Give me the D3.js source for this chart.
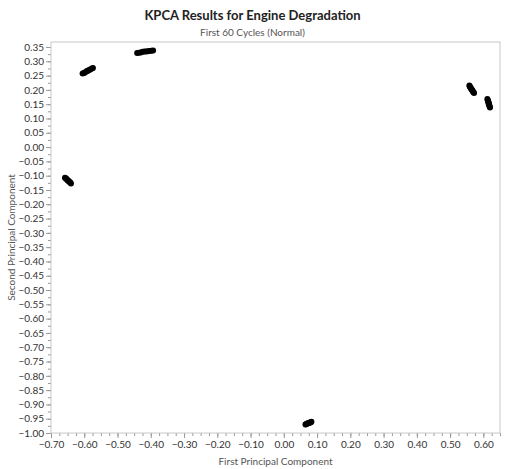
<!DOCTYPE html>
<html>
<head>
<meta charset="utf-8">
<script src="https://cdn.jsdelivr.net/npm/d3@7"></script>
<style>
  body { margin: 0; background: #fff; }
  text { font-family: Lato, "Open Sans", sans-serif; }
</style>
</head>
<body>
<div id="chart"></div>
<script>
var svgWidth = 505;
var svgHeight = 469;

var margin = { top: 42, right: 5, bottom: 36, left: 51 };
var width = svgWidth - margin.left - margin.right;
var height = svgHeight - margin.top - margin.bottom;

// KPCA scores, one pair of arrays per cluster
var clusterA_x = [-0.658, -0.656, -0.654, -0.652, -0.650, -0.648, -0.646, -0.644, -0.642, -0.640];
var clusterA_y = [-0.107, -0.109, -0.111, -0.113, -0.116, -0.118, -0.120, -0.122, -0.124, -0.127];

var clusterB_x = [-0.605, -0.601, -0.598, -0.594, -0.591, -0.588, -0.585, -0.581, -0.577, -0.574];
var clusterB_y = [0.257, 0.259, 0.261, 0.264, 0.266, 0.268, 0.270, 0.272, 0.275, 0.277];

var clusterC_x = [-0.441, -0.436, -0.430, -0.425, -0.419, -0.414, -0.409, -0.404, -0.398, -0.393];
var clusterC_y = [0.329, 0.330, 0.331, 0.333, 0.334, 0.334, 0.335, 0.336, 0.337, 0.338];

var clusterD_x = [0.558, 0.559, 0.561, 0.562, 0.564, 0.565, 0.567, 0.568, 0.570, 0.572];
var clusterD_y = [0.215, 0.212, 0.209, 0.206, 0.203, 0.201, 0.198, 0.195, 0.192, 0.189];

var clusterE_x = [0.612, 0.613, 0.614, 0.615, 0.616, 0.616, 0.617, 0.618, 0.619, 0.620];
var clusterE_y = [0.168, 0.165, 0.161, 0.158, 0.155, 0.151, 0.148, 0.145, 0.141, 0.138];

var clusterF_x = [0.065, 0.067, 0.069, 0.071, 0.073, 0.075, 0.077, 0.079, 0.081, 0.083];
var clusterF_y = [-0.970, -0.969, -0.968, -0.967, -0.966, -0.965, -0.964, -0.963, -0.962, -0.961];

var xTickValues = [-0.70, -0.60, -0.50, -0.40, -0.30, -0.20, -0.10, 0.00, 0.10, 0.20, 0.30, 0.40, 0.50, 0.60];
var yTickValues = [0.35, 0.30, 0.25, 0.20, 0.15, 0.10, 0.05, 0.00, -0.05, -0.10, -0.15, -0.20, -0.25, -0.30,
  -0.35, -0.40, -0.45, -0.50, -0.55, -0.60, -0.65, -0.70, -0.75, -0.80, -0.85, -0.90, -0.95, -1.00];

var points = [];
[[clusterA_x, clusterA_y], [clusterB_x, clusterB_y], [clusterC_x, clusterC_y],
 [clusterD_x, clusterD_y], [clusterE_x, clusterE_y], [clusterF_x, clusterF_y]].forEach(function(c) {
  c[0].forEach(function(v, i) { points.push({ pc1: v, pc2: c[1][i] }); });
});

var svg = d3.select("#chart")
  .append("svg")
  .attr("width", svgWidth)
  .attr("height", svgHeight);

var chartGroup = svg.append("g")
  .attr("transform", `translate(${margin.left}, ${margin.top})`);

var xLinearScale = d3.scaleLinear()
  .domain([-0.70, 0.65])
  .range([0, width]);

var yLinearScale = d3.scaleLinear()
  .domain([-1.00, 0.3675])
  .range([height, 0]);

// minor ticks every 0.025
var xMinor = d3.range(-0.70, 0.651, 0.025);
var yMinor = d3.range(-1.00, 0.36, 0.025);

chartGroup.append("g")
  .attr("transform", `translate(0, ${height})`)
  .call(d3.axisBottom(xLinearScale).tickValues(xMinor).tickSize(3).tickFormat(""))
  .call(g => g.select(".domain").remove())
  .selectAll("line").attr("stroke", "#999");

chartGroup.append("g")
  .call(d3.axisLeft(yLinearScale).tickValues(yMinor).tickSize(3).tickFormat(""))
  .call(g => g.select(".domain").remove())
  .selectAll("line").attr("stroke", "#999");

var xAxis = chartGroup.append("g")
  .attr("transform", `translate(0, ${height})`)
  .call(d3.axisBottom(xLinearScale).tickValues(xTickValues).tickSize(5).tickPadding(3).tickFormat(d3.format(".2f")));

var yAxis = chartGroup.append("g")
  .call(d3.axisLeft(yLinearScale).tickValues(yTickValues).tickSize(5).tickPadding(2).tickFormat(d3.format(".2f")));

[xAxis, yAxis].forEach(function(ax) {
  ax.select(".domain").remove();
  ax.selectAll("line").attr("stroke", "#999");
  ax.selectAll("text").attr("fill", "#333").style("font-size", "10px").style("font-family", "Lato, sans-serif");
});

// plot frame
chartGroup.append("rect")
  .attr("width", width)
  .attr("height", height)
  .attr("fill", "none")
  .attr("stroke", "#c8c8c8")
  .attr("stroke-width", 1);

chartGroup.selectAll("circle")
  .data(points)
  .enter()
  .append("circle")
  .attr("cx", d => xLinearScale(d.pc1))
  .attr("cy", d => yLinearScale(d.pc2))
  .attr("r", 3)
  .attr("fill", "#000");

svg.append("text")
  .attr("x", svgWidth / 2)
  .attr("y", 20)
  .attr("text-anchor", "middle")
  .style("font-size", "13px")
  .style("font-weight", "bold")
  .attr("fill", "#222")
  .text("KPCA Results for Engine Degradation");

svg.append("text")
  .attr("x", svgWidth / 2)
  .attr("y", 36)
  .attr("text-anchor", "middle")
  .style("font-size", "10px")
  .attr("fill", "#555")
  .text("First 60 Cycles (Normal)");

svg.append("text")
  .attr("x", margin.left + width / 2)
  .attr("y", 465)
  .attr("text-anchor", "middle")
  .style("font-size", "10px")
  .attr("fill", "#555")
  .text("First Principal Component");

svg.append("text")
  .attr("transform", `translate(15, ${margin.top + height / 2}) rotate(-90)`)
  .attr("text-anchor", "middle")
  .style("font-size", "10px")
  .attr("fill", "#555")
  .text("Second Principal Component");
</script>
</body>
</html>
